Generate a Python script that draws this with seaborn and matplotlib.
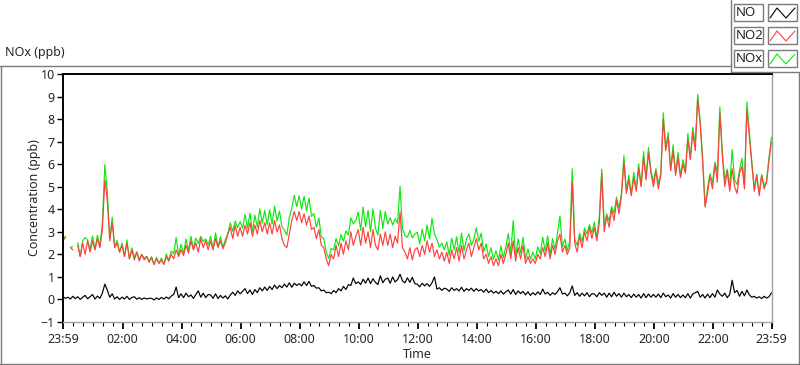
import numpy as np
import pandas as pd
import matplotlib
matplotlib.use("Agg")
import matplotlib.pyplot as plt
import seaborn as sns
from matplotlib.lines import Line2D
from matplotlib.patches import Rectangle

# 5 minute samples, 23:59 (previous day) -> 23:59
minutes = np.arange(0, 1441, 5)

# NO (ppb), one row per hour
no_ppb = [
    0.12, 0.05, 0.10, 0.02, 0.14, 0.04, 0.12, 0.00, 0.10, 0.18, 0.03, 0.12,
    0.22, 0.02, 0.15, 0.05, 0.28, 0.68, 0.42, 0.10, 0.25, 0.02, 0.12, 0.00,
    0.10, 0.02, 0.14, 0.00, 0.09, 0.12, 0.01, 0.08, 0.00, 0.07, 0.02, 0.05,
    0.05, -0.02, 0.07, 0.00, 0.09, 0.02, 0.11, 0.03, 0.15, 0.22, 0.55, 0.08,
    0.25, 0.08, 0.28, 0.12, 0.20, 0.05, 0.22, 0.38, 0.10, 0.28, 0.08, 0.22,
    0.20, 0.05, 0.25, 0.04, 0.18, 0.06, 0.16, 0.02, 0.20, 0.32, 0.18, 0.38,
    0.25, 0.36, 0.48, 0.26, 0.42, 0.22, 0.44, 0.30, 0.52, 0.38, 0.55, 0.40,
    0.58, 0.44, 0.64, 0.48, 0.62, 0.52, 0.68, 0.55, 0.74, 0.54, 0.72, 0.62,
    0.70, 0.60, 0.78, 0.62, 0.80, 0.58, 0.62, 0.50, 0.52, 0.38, 0.42, 0.30,
    0.32, 0.26, 0.40, 0.30, 0.48, 0.38, 0.58, 0.44, 0.66, 0.62, 0.95, 0.70,
    0.78, 0.66, 0.90, 0.72, 0.95, 0.70, 0.92, 0.76, 0.66, 1.05, 0.74, 0.90,
    0.95, 0.72, 1.00, 0.78, 0.88, 1.12, 0.82, 0.74, 0.96, 0.76, 0.98, 0.70,
    0.68, 0.56, 0.72, 0.60, 0.70, 0.58, 0.74, 1.00, 0.46, 0.52, 0.40, 0.50,
    0.46, 0.36, 0.52, 0.40, 0.48, 0.38, 0.54, 0.36, 0.48, 0.40, 0.50, 0.36,
    0.48, 0.38, 0.44, 0.32, 0.46, 0.30, 0.40, 0.28, 0.36, 0.26, 0.38, 0.24,
    0.34, 0.42, 0.24, 0.44, 0.22, 0.38, 0.26, 0.36, 0.20, 0.34, 0.18, 0.30,
    0.20, 0.34, 0.22, 0.46, 0.24, 0.32, 0.18, 0.30, 0.22, 0.34, 0.52, 0.24,
    0.28, 0.16, 0.30, 0.60, 0.18, 0.30, 0.14, 0.28, 0.16, 0.30, 0.12, 0.26,
    0.24, 0.12, 0.30, 0.18, 0.28, 0.10, 0.28, 0.12, 0.32, 0.14, 0.26, 0.10,
    0.28, 0.12, 0.22, 0.08, 0.24, 0.10, 0.22, 0.06, 0.26, 0.08, 0.24, 0.10,
    0.22, 0.10, 0.24, 0.08, 0.28, 0.12, 0.20, 0.06, 0.26, 0.10, 0.22, 0.08,
    0.20, 0.08, 0.26, 0.06, 0.24, 0.30, 0.36, 0.10, 0.22, 0.06, 0.24, 0.08,
    0.26, 0.10, 0.42, 0.24, 0.14, 0.28, 0.08, 0.22, 0.85, 0.30, 0.40, 0.14,
    0.36, 0.16, 0.42, 0.20, 0.10, 0.14, 0.06, 0.12, 0.04, 0.14, 0.06, 0.12,
    0.30,
]

# NO2 (ppb)
no2_ppb = [
    2.6, 2.75, np.nan, 2.3, 2.2, np.nan, 2.4, 1.9, 2.5, 2.0, 2.6, 2.1,
    2.6, 2.2, 2.7, 2.3, 3.1, 5.3, 4.4, 2.6, 3.4, 2.3, 2.5, 2.1,
    2.4, 1.9, 2.5, 1.8, 2.2, 1.75, 2.1, 1.7, 2.0, 1.75, 1.9, 1.65,
    1.85, 1.55, 1.8, 1.6, 1.75, 1.55, 1.9, 1.7, 2.0, 1.8, 2.2, 1.9,
    2.2, 1.95, 2.4, 2.05, 2.6, 2.2, 2.5, 2.1, 2.7, 2.3, 2.6, 2.2,
    2.6, 2.2, 2.7, 2.3, 2.6, 2.25, 2.5, 2.9, 3.2, 2.7, 3.3, 2.8,
    3.2, 2.8, 3.3, 2.9, 3.4, 2.8, 3.3, 2.9, 3.5, 3.0, 3.4, 2.9,
    3.4, 2.9, 3.5, 3.0, 3.3, 2.7, 2.4, 2.3, 2.9, 3.5, 3.9, 3.5,
    3.9, 3.4, 3.8, 3.3, 3.7, 3.1, 3.2, 2.7, 3.1, 2.4, 2.3, 1.8,
    1.5, 2.0, 1.8, 2.4, 1.9, 2.5, 2.0, 2.6, 2.2, 3.0, 2.4, 2.8,
    3.1, 2.4, 3.2, 2.5, 3.0, 2.3, 3.1, 2.4, 2.2, 2.9, 2.4, 3.0,
    2.4, 2.9, 2.3, 2.8, 2.5, 3.9, 2.3, 2.1, 1.8, 2.3, 1.75, 2.2,
    2.3, 1.9, 2.4, 2.0, 2.6, 2.1, 2.5, 1.9, 2.2, 1.8, 2.1, 1.7,
    2.1, 1.6, 2.2, 1.8, 2.3, 1.7, 2.4, 1.8, 2.2, 2.5, 1.9, 2.3,
    2.7, 2.2, 2.5, 1.8, 2.0, 1.6, 1.9, 1.5, 1.8, 1.5, 2.0, 1.6,
    2.0, 2.5, 1.8, 2.6, 1.7, 2.3, 1.8, 2.4, 1.6, 1.9, 1.6, 1.8,
    1.6, 2.0, 1.8, 2.3, 1.9, 2.5, 1.8, 2.4, 2.0, 2.6, 2.9, 2.1,
    2.4, 2.0, 2.3, 5.2, 2.5, 2.1, 2.8, 2.3, 3.0, 2.6, 3.2, 2.7,
    3.2, 2.6, 3.4, 5.6, 3.0, 3.7, 3.2, 4.0, 3.5, 4.4, 3.8, 4.6,
    6.1, 4.7, 5.3, 4.6, 5.4, 4.8, 5.8, 5.0, 6.3, 5.3, 6.5, 5.6,
    5.0, 5.7, 4.9, 5.5, 8.0, 6.6, 7.2, 5.7, 6.6, 5.5, 6.3, 5.4,
    6.0, 5.6, 7.1, 6.2, 7.4, 6.6, 8.9, 7.8, 6.1, 4.1, 4.7, 5.5,
    4.9, 6.0, 5.2, 8.3, 6.4, 5.0, 5.7, 4.8, 5.8, 5.0, 4.7, 5.6,
    5.9, 4.9, 8.4, 7.2, 6.0, 4.8, 5.5, 4.6, 5.5, 4.9, 5.2, 6.2,
    7.0,
]

# NOx (ppb)
nox_ppb = [
    2.72, 2.8, np.nan, 2.32, 2.34, np.nan, 2.52, 1.9, 2.6, 2.75, 2.63, 2.22,
    2.82, 2.22, 2.85, 2.35, 3.38, 5.98, 4.82, 2.7, 3.65, 2.32, 2.62, 2.1,
    2.5, 1.92, 2.64, 1.8, 2.29, 1.87, 2.11, 1.78, 2.0, 1.82, 1.92, 1.7,
    1.9, 1.55, 1.87, 1.6, 1.84, 1.57, 2.01, 1.73, 2.15, 2.02, 2.75, 1.98,
    2.45, 2.03, 2.68, 2.17, 2.8, 2.25, 2.72, 2.48, 2.8, 2.58, 2.68, 2.42,
    2.8, 2.25, 2.95, 2.34, 2.78, 2.31, 2.66, 2.92, 3.4, 3.02, 3.48, 3.18,
    3.45, 3.16, 3.78, 3.16, 3.82, 3.02, 3.74, 3.2, 4.02, 3.38, 3.95, 3.3,
    3.98, 3.34, 4.14, 3.48, 3.92, 3.22, 3.08, 2.85, 3.64, 4.04, 4.62, 4.12,
    4.6, 4.0, 4.58, 3.92, 4.5, 3.68, 3.82, 3.2, 3.62, 2.78, 2.72, 2.1,
    1.82, 2.26, 2.2, 2.7, 2.38, 2.88, 2.58, 3.04, 2.86, 3.62, 3.35, 3.5,
    3.88, 3.06, 4.1, 3.22, 3.95, 3.0, 4.02, 3.16, 2.86, 3.95, 3.14, 3.9,
    3.35, 3.62, 3.3, 3.58, 3.38, 5.02, 3.12, 2.84, 2.76, 3.06, 2.73, 2.9,
    2.98, 2.46, 3.12, 2.6, 3.3, 2.68, 3.6, 2.9, 2.66, 2.32, 2.5, 2.2,
    2.56, 1.96, 2.72, 2.2, 2.78, 2.08, 2.94, 2.16, 2.68, 2.9, 2.4, 2.66,
    3.18, 2.58, 2.94, 2.12, 2.46, 1.9, 2.3, 1.78, 2.16, 1.76, 2.38, 1.84,
    2.34, 2.92, 2.04, 3.5, 1.92, 2.68, 2.06, 2.76, 1.8, 2.24, 1.78, 2.1,
    1.8, 2.34, 2.02, 2.76, 2.14, 2.82, 1.98, 2.7, 2.22, 2.94, 3.7, 2.34,
    2.68, 2.16, 2.6, 5.8, 2.68, 2.4, 2.94, 2.58, 3.16, 2.9, 3.32, 2.96,
    3.44, 2.72, 3.7, 5.78, 3.28, 3.8, 3.48, 4.12, 3.82, 4.54, 4.06, 4.7,
    6.38, 4.82, 5.52, 4.68, 5.64, 4.9, 6.02, 5.06, 6.56, 5.38, 6.74, 5.7,
    5.22, 5.8, 5.14, 5.58, 8.28, 6.72, 7.4, 5.76, 6.86, 5.6, 6.52, 5.48,
    6.2, 5.68, 7.36, 6.26, 7.64, 6.9, 9.1, 7.9, 6.32, 4.16, 4.94, 5.58,
    5.16, 6.1, 5.62, 8.54, 6.54, 5.28, 5.78, 5.02, 6.65, 5.3, 5.1, 5.74,
    6.26, 5.06, 8.75, 7.4, 6.1, 4.94, 5.56, 4.72, 5.54, 5.04, 5.26, 6.32,
    7.2,
]

species = ["NOx", "NO2", "NO"]  # draw order
legend_names = ["NO", "NO2", "NOx"]
colors = {"NO": "#000000", "NO2": "#ff4040", "NOx": "#11e611"}

tick_hours = [-1 / 60, 2, 4, 6, 8, 10, 12, 14, 16, 18, 20, 22, 1439 / 60]
tick_labels = ["23:59", "02:00", "04:00", "06:00", "08:00", "10:00", "12:00",
               "14:00", "16:00", "18:00", "20:00", "22:00", "23:59"]

# long form, each NaN gap starts a new unit so the line breaks
df = pd.DataFrame({"hours": (minutes - 1) / 60, "NO": no_ppb,
                   "NO2": no2_ppb, "NOx": nox_ppb})
df_long = df.melt(id_vars="hours", var_name="species", value_name="ppb")
df_long["seg"] = df_long.groupby("species")["ppb"].transform(
    lambda s: s.isna().cumsum())

sns.set_style("white")
plt.rcParams["font.family"] = ["Noto Sans", "DejaVu Sans"]

W, H = 800, 365
fig = plt.figure(figsize=(W / 100, H / 100), dpi=100)


def fx(x):
    return x / W


def fy(y):
    return 1 - y / H


ax = fig.add_axes([fx(63), fy(322), fx(772) - fx(63), fy(74) - fy(322)])

sns.lineplot(data=df_long, x="hours", y="ppb", hue="species", units="seg",
             estimator=None, hue_order=species, palette=colors,
             linewidth=0.85, legend=False, ax=ax)

ax.set_xlim(-1 / 60, 1439 / 60)
ax.set_ylim(-1, 10)
ax.set_yticks(range(-1, 11))
ax.set_xticks(tick_hours)
ax.set_xticklabels(tick_labels)
ax.set_xticks(np.arange(1 / 3, 24, 1 / 3), minor=True)

ax.tick_params(axis="y", left=True, direction="out", length=4, width=1,
               pad=2, labelsize=9, color="black")
ax.tick_params(axis="x", which="major", bottom=True, direction="out",
               length=5, width=1.3, pad=3, labelsize=9, color="black")
ax.tick_params(axis="x", which="minor", bottom=True, direction="out",
               length=3, width=0.8, color="black")

for side in ["top", "left"]:
    ax.spines[side].set_color("black")
    ax.spines[side].set_linewidth(1.4)
for side in ["bottom", "right"]:
    ax.spines[side].set_color("#a0a0a0")
    ax.spines[side].set_linewidth(1.0)

ax.set_xlabel("Time", fontsize=9)
ax.set_ylabel("Concentration (ppb)", fontsize=9)
ax.xaxis.set_label_coords(0.5, -(348 - 322) / 248)
ax.yaxis.set_label_coords(-(63 - 41) / 709, 0.5)

fig.text(fx(5), fy(56), "NOx (ppb)", fontsize=9, ha="left", va="baseline")

# panel frame
frame = "#7a7a7a"
for (x0, y0, x1, y1) in [(0, 66, 731, 66), (1, 66, 1, 364), (0, 364, 800, 364),
                         (799, 72, 799, 364), (731, 0, 731, 72),
                         (731, 72, 800, 72)]:
    fig.add_artist(Line2D([fx(x0), fx(x1)], [fy(y0), fy(y1)], color=frame,
                          lw=1.0, transform=fig.transFigure))

# plot legend: name box + sample box per row
row_tops = [4, 27, 50]
for name, top in zip(legend_names, row_tops):
    fig.add_artist(Rectangle((fx(734), fy(top + 17)), fx(29), fy(top) - fy(top + 17),
                             transform=fig.transFigure, facecolor="white",
                             edgecolor=frame, lw=1.0))
    fig.text(fx(735.5), fy(top + 8.5), name, fontsize=9.5, ha="left", va="center")
    fig.add_artist(Rectangle((fx(768), fy(top + 17)), fx(29), fy(top) - fy(top + 17),
                             transform=fig.transFigure, facecolor="white",
                             edgecolor=frame, lw=1.0))
    zx = [770, 777, 786, 795]
    zy = [top + 14, top + 4, top + 14, top + 4]
    fig.add_artist(Line2D([fx(v) for v in zx], [fy(v) for v in zy],
                          color=colors[name], lw=0.8, transform=fig.transFigure))

fig.savefig("out.png", dpi=100)
